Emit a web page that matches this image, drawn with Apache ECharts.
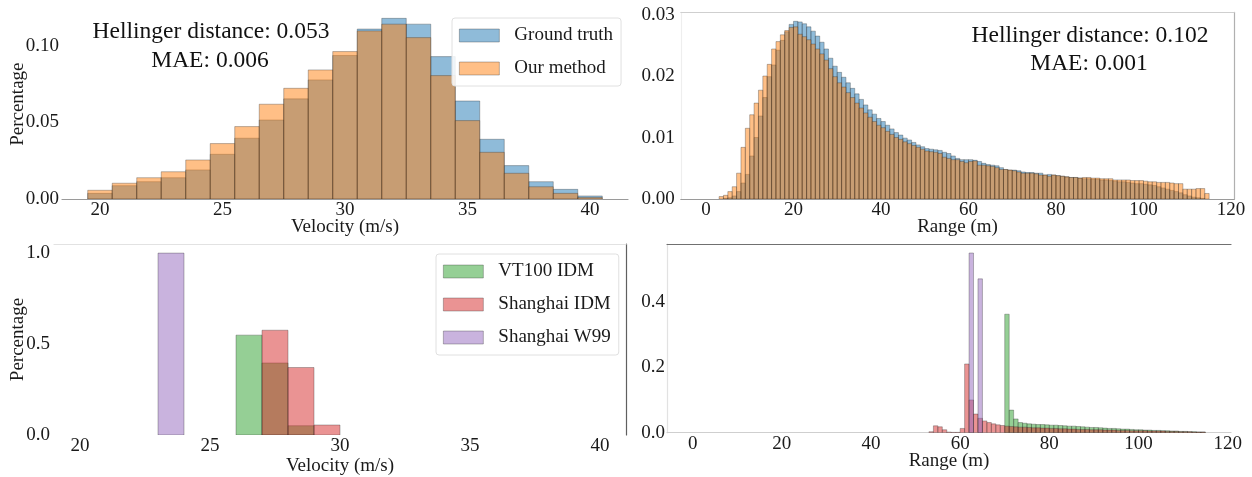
<!DOCTYPE html>
<html>
<head>
<meta charset="utf-8">
<script src="https://cdn.jsdelivr.net/npm/echarts@6/dist/echarts.min.js"></script>
<style>
html,body{margin:0;padding:0;background:#fff;}
#chart{width:1252px;height:477px;}
</style>
</head>
<body>
<div id="chart"></div>
<script>
// ---------- DATA ----------
// Panel top-left: velocity histogram, bin edges 19.5 .. 40.5
const velocityEdges = [19.5,20.5,21.5,22.5,23.5,24.5,25.5,26.5,27.5,28.5,29.5,30.5,31.5,32.5,33.5,34.5,35.5,36.5,37.5,38.5,39.5,40.5];
const groundTruthVelocity = [0.0037,0.0087,0.0113,0.0139,0.0190,0.0292,0.0397,0.0516,0.0654,0.0778,0.0937,0.1110,0.1180,0.1142,0.0930,0.0640,0.0390,0.0218,0.0113,0.0063,0.0020];
const ourMethodVelocity   = [0.0057,0.0103,0.0139,0.0178,0.0255,0.0362,0.0473,0.0619,0.0723,0.0843,0.0963,0.1098,0.1142,0.1054,0.0806,0.0512,0.0305,0.0168,0.0080,0.0037,0.0010];

// Panel top-right: range histogram, bins of width 1 starting at 0 (115 bins)
const rangeBinStart = 0;
const rangeBinWidth = 1;
const groundTruthRange = [
0,0,0,0,0.0001,0.0002,0.0005,0.0012,0.0026,0.0040,
0.0070,0.0100,0.0135,0.0165,0.0199,0.0218,0.0242,0.0258,0.0272,0.0284,
0.0289,0.0288,0.0285,0.0280,0.0273,0.0265,0.0255,0.0244,0.0229,0.0216,
0.0206,0.0198,0.0189,0.0180,0.0171,0.0162,0.0153,0.0145,0.0138,0.0131,
0.0126,0.0120,0.0114,0.0108,0.0104,0.0099,0.0096,0.0092,0.0088,0.0085,
0.0082,0.0081,0.0080,0.0079,0.0076,0.0074,0.0070,0.0066,0.0064,0.0064,
0.0064,0.0063,0.0061,0.0058,0.0056,0.0055,0.0054,0.0051,0.0048,0.0047,
0.0047,0.0046,0.0044,0.0043,0.0043,0.0042,0.0042,0.0039,0.0040,0.0039,
0.0038,0.0037,0.0036,0.0035,0.0035,0.0034,0.0033,0.0033,0.0032,0.0032,
0.0031,0.0031,0.0030,0.0029,0.0028,0.0028,0.0027,0.0026,0.0025,0.0025,
0.0024,0.0023,0.0022,0.0020,0.0018,0.0016,0.0014,0.0012,0.0010,0.0007,
0.0005,0.0003,0.0002,0.0001,0];
const ourMethodRange = [
0,0,0,0.0004,0.0006,0.0012,0.0020,0.0042,0.0084,0.0115,
0.0137,0.0156,0.0177,0.0200,0.0219,0.0244,0.0256,0.0267,0.0274,0.0279,
0.0280,0.0268,0.0264,0.0259,0.0252,0.0244,0.0236,0.0226,0.0212,0.0199,
0.0189,0.0182,0.0173,0.0165,0.0156,0.0148,0.0140,0.0133,0.0126,0.0120,
0.0116,0.0110,0.0105,0.0100,0.0097,0.0093,0.0090,0.0087,0.0084,0.0081,
0.0078,0.0077,0.0076,0.0074,0.0068,0.0066,0.0064,0.0064,0.0061,0.0059,
0.0061,0.0062,0.0055,0.0055,0.0054,0.0053,0.0051,0.0048,0.0048,0.0047,
0.0046,0.0044,0.0042,0.0042,0.0042,0.0041,0.0039,0.0039,0.0037,0.0039,
0.0038,0.0037,0.0036,0.0035,0.0035,0.0034,0.0035,0.0035,0.0034,0.0034,
0.0033,0.0033,0.0033,0.0031,0.0031,0.0031,0.0031,0.0030,0.0030,0.0030,
0.0029,0.0028,0.0028,0.0027,0.0027,0.0027,0.0026,0.0025,0.0025,0.0016,
0.0016,0.0016,0.0017,0.0017,0.0009];

// Panel bottom-left: simulated velocity histograms, bin edges 23 .. 30
const simVelocityEdges = [23,24,25,26,27,28,29,30];
const vt100IdmVelocity    = [0,0,0,0.549,0.396,0.051,0];
const shanghaiIdmVelocity = [0,0,0,0,0.576,0.371,0.055];
const shanghaiW99Velocity = [1.0,0,0,0,0,0,0];

// Panel bottom-right: simulated range histograms, bins of width 1 starting at 53 (62 bins, up to 115)
const simRangeBinStart = 53;
const vt100IdmRange = [
0,0,0,0,0,0,0,0,0,0,
0,0,0,0,0,0,0,0.362,0.069,0.042,
0.031,0.029,0.027,0.026,0.025,0.025,0.024,0.023,0.023,0.022,
0.021,0.020,0.020,0.019,0.018,0.017,0.016,0.016,0.015,0.014,
0.013,0.013,0.012,0.011,0.011,0.010,0.009,0.009,0.008,0.008,
0.007,0.007,0.006,0.006,0.005,0.005,0.004,0.004,0.003,0.003,
0.002,0.002];
const shanghaiIdmRange = [
0.003,0.021,0.018,0.009,0.002,0.001,0.001,0.013,0.210,0.100,
0.057,0.044,0.036,0.031,0.027,0.024,0.022,0.020,0.019,0.018,
0.017,0.017,0.016,0.015,0.015,0.014,0.014,0.013,0.013,0.012,
0.012,0.011,0.011,0.010,0.010,0.010,0.009,0.009,0.009,0.008,
0.008,0.008,0.007,0.007,0.007,0.006,0.006,0.006,0.006,0.005,
0.005,0.005,0.005,0.004,0.004,0.004,0.003,0.003,0.003,0.002,
0.002,0.002];
const shanghaiW99Range = [
0,0,0,0,0,0,0,0,0,0.549,
0,0.470,0,0,0,0,0,0,0,0,
0,0,0,0,0,0,0,0,0,0,
0,0,0,0,0,0,0,0,0,0,
0,0,0,0,0,0,0,0,0,0,
0,0,0,0,0,0,0,0,0,0,
0,0];

const velocityTicks = [20,25,30,35,40];
const rangeTicks = [0,20,40,60,80,100,120];

const texts = {
  topLeft: ['Hellinger distance: 0.053', 'MAE: 0.006'],
  topRight: ['Hellinger distance: 0.102', 'MAE: 0.001']
};

// ---------- STYLE ----------
const FONT = "'Liberation Serif','DejaVu Serif',serif";
const C = {
  blue: 'rgba(31,119,180,0.5)',
  orange: 'rgba(255,127,14,0.5)',
  green: 'rgba(44,160,44,0.5)',
  red: 'rgba(214,39,40,0.5)',
  purple: 'rgba(148,103,189,0.5)'
};
const EDGE = 'rgba(40,40,40,0.45)';

function edgesFromStart(start, width, n) {
  const e = [];
  for (let i = 0; i <= n; i++) e.push(start + i * width);
  return e;
}

function hist(name, edges, values, color, idx) {
  const data = [];
  values.forEach((v, i) => { if (v > 0) data.push([edges[i], edges[i + 1], v]); });
  return {
    type: 'custom', name: name, xAxisIndex: idx, yAxisIndex: idx,
    data: data, encode: { x: [0, 1], y: 2 },
    itemStyle: { color: color },
    clip: true,
    renderItem: function (params, api) {
      const p0 = api.coord([api.value(0), 0]);
      const p1 = api.coord([api.value(1), api.value(2)]);
      return {
        type: 'rect',
        shape: { x: p0[0], y: p1[1], width: p1[0] - p0[0], height: p0[1] - p1[1] },
        style: { fill: color, stroke: EDGE, lineWidth: 0.7 }
      };
    }
  };
}

const rangeEdges = edgesFromStart(rangeBinStart, rangeBinWidth, groundTruthRange.length);
const simRangeEdges = edgesFromStart(simRangeBinStart, rangeBinWidth, vt100IdmRange.length);

const tickFont = { fontFamily: FONT, fontSize: 19, color: '#1a1a1a' };

function xAxis(grid, min, max, ticks, name, nameGap, lineColor, showLine) {
  return {
    type: 'value', gridIndex: grid, min: min, max: max, position: 'bottom',
    name: name, nameLocation: 'middle', nameGap: nameGap, nameMoveOverlap: false,
    nameTextStyle: { fontFamily: FONT, fontSize: 19, color: '#1a1a1a' },
    axisLine: { show: showLine, onZero: false, lineStyle: { color: lineColor, width: 1.2 } },
    axisTick: { show: false, customValues: ticks },
    axisLabel: Object.assign({ customValues: ticks, margin: 2, showMinLabel: true, showMaxLabel: true }, tickFont),
    splitLine: { show: false }
  };
}
function frameX(grid, min, max, color, pos) {
  return {
    type: 'value', gridIndex: grid, min: min, max: max, position: pos,
    axisLine: { show: true, onZero: false, lineStyle: { color: color, width: 1.2 } },
    axisTick: { show: false }, axisLabel: { show: false }, splitLine: { show: false }
  };
}
function yAxis(grid, max, interval, digits, name, nameGap, margin, lineColor, showLine) {
  return {
    type: 'value', gridIndex: grid, min: 0, max: max, interval: interval, position: 'left',
    name: name, nameLocation: 'middle', nameGap: nameGap, nameMoveOverlap: false,
    nameTextStyle: { fontFamily: FONT, fontSize: 19, color: '#1a1a1a' },
    axisLine: { show: showLine, onZero: false, lineStyle: { color: lineColor, width: 1.2 } },
    axisTick: { show: false },
    axisLabel: Object.assign({ margin: margin, showMaxLabel: false, formatter: v => v.toFixed(digits) }, tickFont),
    splitLine: { show: false }
  };
}
function frameY(grid, max, color, pos) {
  return {
    type: 'value', gridIndex: grid, min: 0, max: max, position: pos,
    axisLine: { show: true, onZero: false, lineStyle: { color: color, width: 1.2 } },
    axisTick: { show: false }, axisLabel: { show: false }, splitLine: { show: false }
  };
}

const yMax0 = 0.1239, yMax1 = 0.03035, yMax2 = 1.05, yMax3 = 0.5765;
const annot = { fontFamily: FONT, fontSize: 23.5, fill: '#111', align: 'center', verticalAlign: 'middle' };

const option = {
  animation: false,
  backgroundColor: '#fff',
  grid: [
    { left: 62, top: 9.3, width: 566, height: 189.7 },
    { left: 680.8, top: 12.4, width: 553.5, height: 186.6 },
    { left: 54, top: 244, width: 572, height: 192.7 },
    { left: 667, top: 244, width: 564, height: 188.7 }
  ],
  xAxis: [
    xAxis(0, 18.45, 41.55, velocityTicks, 'Velocity (m/s)', 19, '#9a9a9a', true),
    xAxis(1, -5.75, 120.75, rangeTicks, 'Range (m)', 19, '#9a9a9a', true),
    xAxis(2, 19, 41, velocityTicks, 'Velocity (m/s)', 22, '#ffffff', false),
    xAxis(3, -5.75, 120.75, rangeTicks, 'Range (m)', 19, '#cfcfcf', true),
    frameX(1, -5.75, 120.75, '#cfcfcf', 'top'),
    frameX(2, 19, 41, '#e2e2e2', 'top'),
    frameX(3, -5.75, 120.75, '#707070', 'top')
  ],
  yAxis: [
    yAxis(0, yMax0, 0.05, 2, 'Percentage', 34, 3, '#fff', false),
    yAxis(1, yMax1, 0.01, 2, '', 0, 6, '#eeeeee', true),
    yAxis(2, yMax2, 0.5, 1, 'Percentage', 26, 4, '#fff', false),
    yAxis(3, yMax3, 0.2, 1, '', 0, 2, '#e2e2e2', true),
    frameY(1, yMax1, '#b0b0b0', 'right'),
    frameY(2, yMax2, '#606060', 'right')
  ],
  legend: [
    {
      orient: 'vertical', left: 452, top: 18, padding: [8, 8, 8, 7],
      itemWidth: 40, itemHeight: 13, itemGap: 14, selectedMode: false,
      borderColor: '#e0e0e0', borderWidth: 1, borderRadius: 3, backgroundColor: 'rgba(255,255,255,0.85)',
      textStyle: { fontFamily: FONT, fontSize: 19, color: '#1a1a1a', padding: [0, 0, 0, 10] },
      data: [
        { name: 'Ground truth', icon: 'rect', itemStyle: { color: C.blue, borderColor: EDGE, borderWidth: 0.7 } },
        { name: 'Our method', icon: 'rect', itemStyle: { color: C.orange, borderColor: EDGE, borderWidth: 0.7 } }
      ]
    },
    {
      orient: 'vertical', left: 436, top: 254, padding: [8, 8, 8, 7],
      itemWidth: 40, itemHeight: 13, itemGap: 14, selectedMode: false,
      borderColor: '#e0e0e0', borderWidth: 1, borderRadius: 3, backgroundColor: 'rgba(255,255,255,0.85)',
      textStyle: { fontFamily: FONT, fontSize: 19, color: '#1a1a1a', padding: [0, 0, 0, 10] },
      data: [
        { name: 'VT100 IDM', icon: 'rect', itemStyle: { color: C.green, borderColor: EDGE, borderWidth: 0.7 } },
        { name: 'Shanghai IDM', icon: 'rect', itemStyle: { color: C.red, borderColor: EDGE, borderWidth: 0.7 } },
        { name: 'Shanghai W99', icon: 'rect', itemStyle: { color: C.purple, borderColor: EDGE, borderWidth: 0.7 } }
      ]
    }
  ],
  graphic: [
    { type: 'text', x: 211, y: 32, style: Object.assign({ text: texts.topLeft[0] }, annot) },
    { type: 'text', x: 210, y: 61, style: Object.assign({ text: texts.topLeft[1] }, annot) },
    { type: 'text', x: 1090, y: 36, style: Object.assign({ text: texts.topRight[0] }, annot) },
    { type: 'text', x: 1089, y: 64, style: Object.assign({ text: texts.topRight[1] }, annot) }
  ],
  series: [
    hist('Ground truth', velocityEdges, groundTruthVelocity, C.blue, 0),
    hist('Our method', velocityEdges, ourMethodVelocity, C.orange, 0),
    hist('Ground truth', rangeEdges, groundTruthRange, C.blue, 1),
    hist('Our method', rangeEdges, ourMethodRange, C.orange, 1),
    hist('VT100 IDM', simVelocityEdges, vt100IdmVelocity, C.green, 2),
    hist('Shanghai IDM', simVelocityEdges, shanghaiIdmVelocity, C.red, 2),
    hist('Shanghai W99', simVelocityEdges, shanghaiW99Velocity, C.purple, 2),
    hist('VT100 IDM', simRangeEdges, vt100IdmRange, C.green, 3),
    hist('Shanghai IDM', simRangeEdges, shanghaiIdmRange, C.red, 3),
    hist('Shanghai W99', simRangeEdges, shanghaiW99Range, C.purple, 3)
  ]
};

const chart = echarts.init(document.getElementById('chart'), null, { renderer: 'canvas' });
chart.setOption(option);
</script>
</body>
</html>
